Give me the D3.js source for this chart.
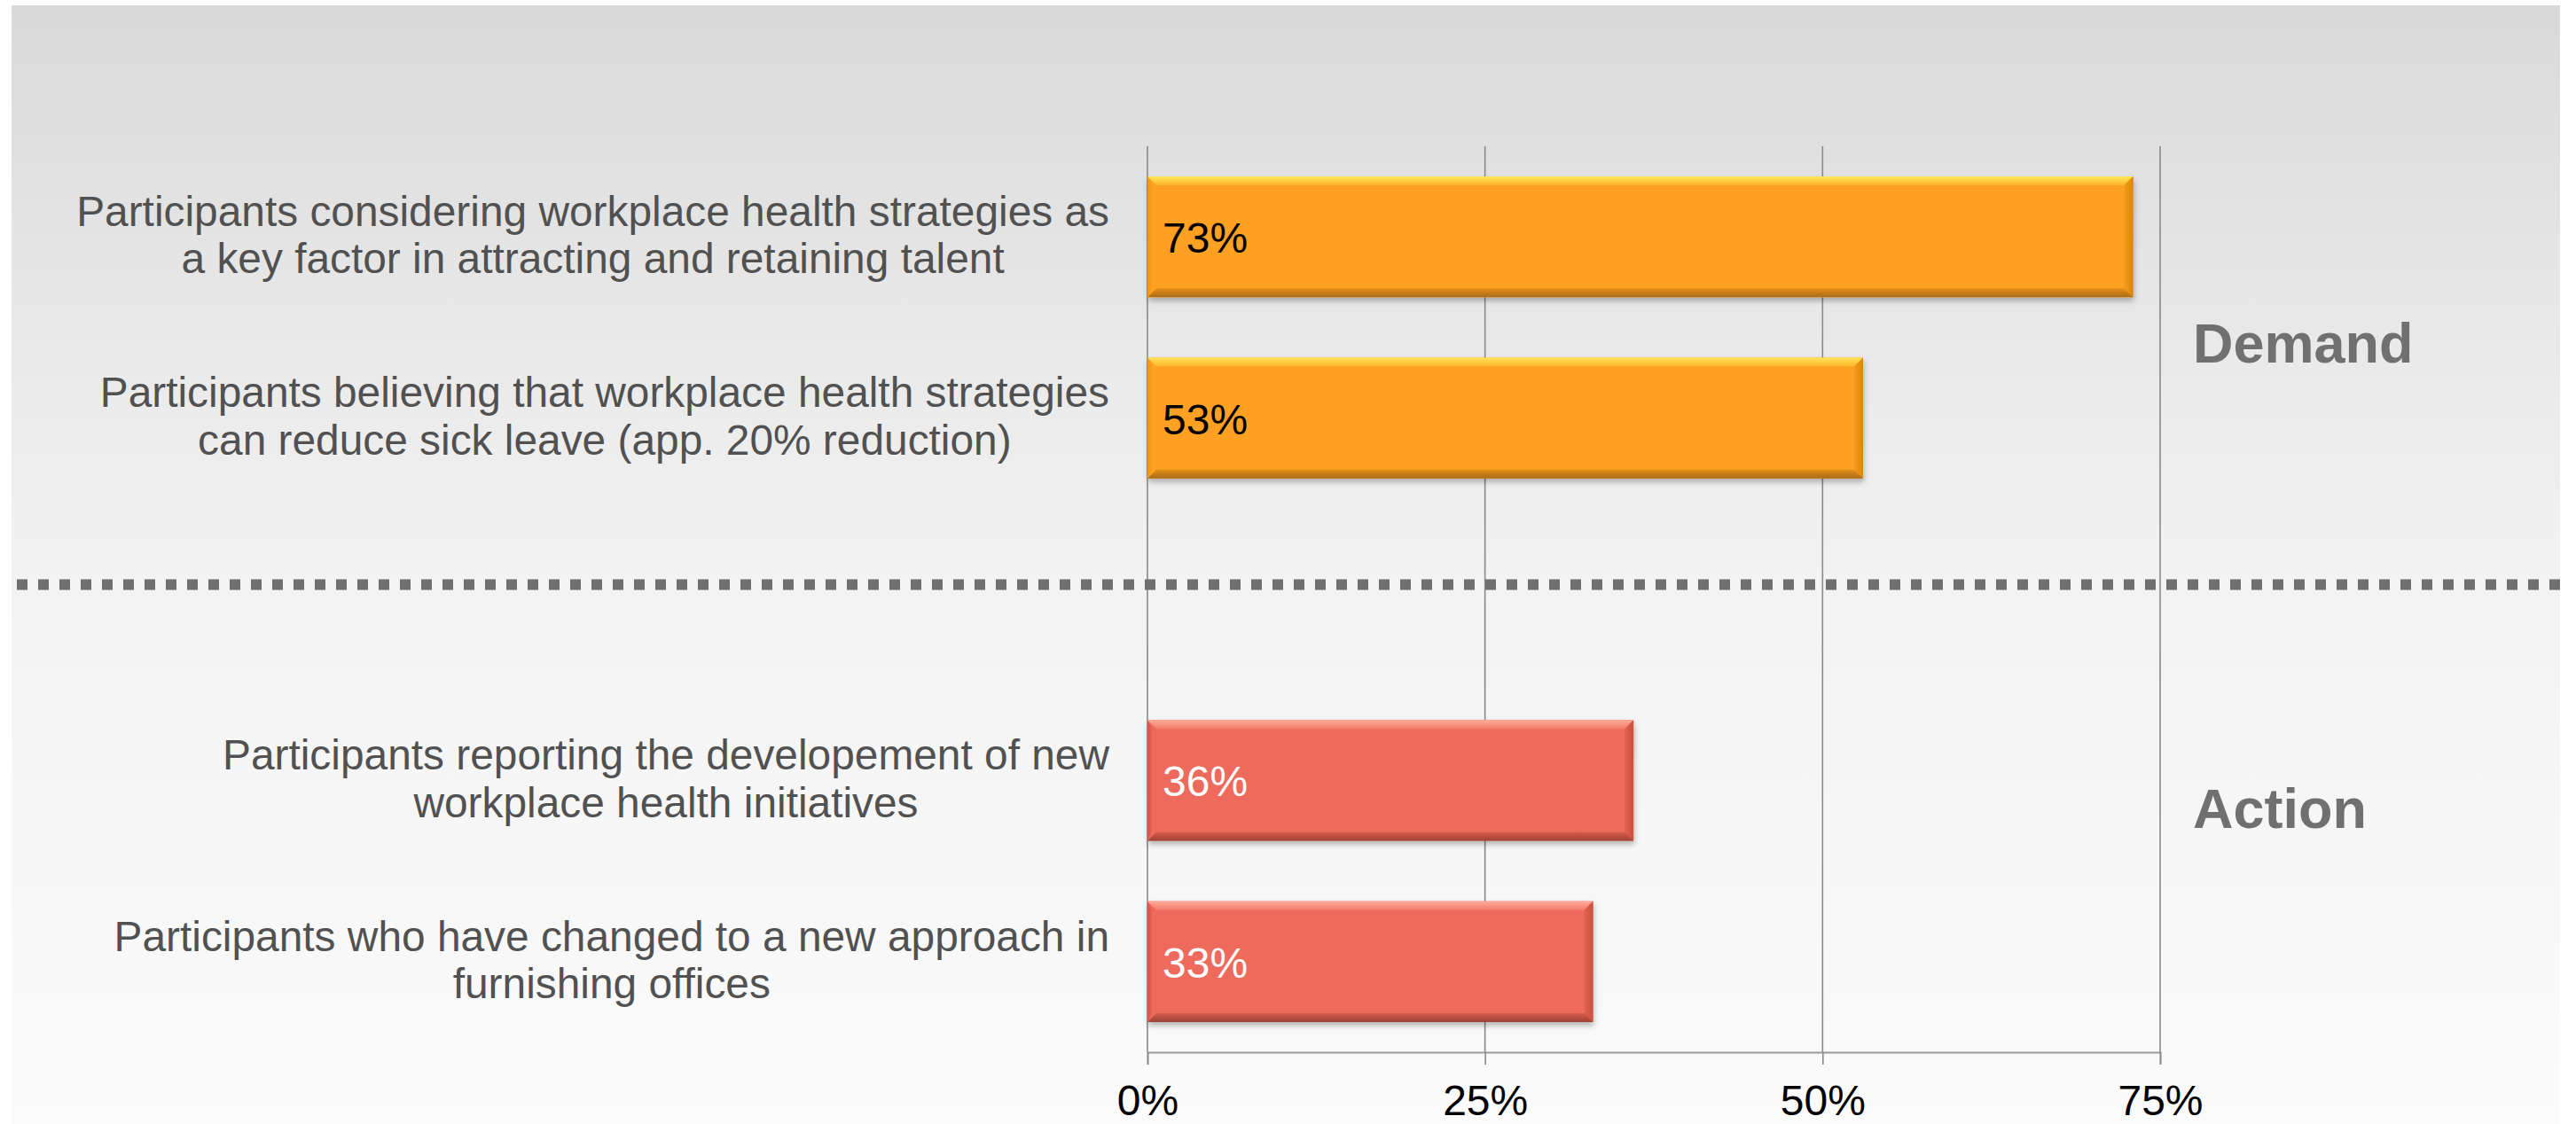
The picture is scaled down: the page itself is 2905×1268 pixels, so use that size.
<!DOCTYPE html>
<html>
<head>
<meta charset="utf-8">
<script src="https://cdn.jsdelivr.net/npm/d3@7"></script>
<style>
  html, body { margin: 0; padding: 0; background: #ffffff; }
  svg { display: block; }
  text { font-family: "Liberation Sans", Arial, Helvetica, sans-serif; }
</style>
</head>
<body>
<svg id="chart" width="2905" height="1268"></svg>
<script>
// Survey results: share of participants per statement
const labelLines = [
  ["Participants considering workplace health strategies as", "a key factor in attracting and retaining talent"],
  ["Participants believing that workplace health strategies", "can reduce sick leave (app. 20% reduction)"],
  ["Participants reporting the developement of new", "workplace health initiatives"],
  ["Participants who have changed to a new approach in", "furnishing offices"]
];
const values = [0.73, 0.53, 0.36, 0.33];
const groups = ["Demand", "Demand", "Action", "Action"];
// row slot for each statement; slot 2 stays empty as the divider between groups
const slots = [0, 1, 3, 4];
const slotCount = 5;
const tickValues = [0, 0.25, 0.5, 0.75];
const groupTitles = ["Demand", "Action"];

const W = 2905, H = 1268;
const svg = d3.select("#chart");
const defs = svg.append("defs");

// panel background gradient
const bg = defs.append("linearGradient").attr("id", "bgGrad")
  .attr("x1", 0).attr("y1", 0).attr("x2", 0).attr("y2", 1);
[[0, "#d9d9d9"], [0.28, "#e8e8e8"], [0.52, "#f3f3f3"], [1, "#fbfbfb"]]
  .forEach(([o, c]) => bg.append("stop").attr("offset", o).attr("stop-color", c));

svg.append("rect").attr("x", 13).attr("y", 6).attr("width", 2874).attr("height", H - 6)
  .attr("fill", "url(#bgGrad)");

// bar shadow
const sh = defs.append("filter").attr("id", "barShadow")
  .attr("x", "-5%").attr("y", "-20%").attr("width", "110%").attr("height", "150%");
sh.append("feDropShadow").attr("dx", 1).attr("dy", 4).attr("stdDeviation", 3)
  .attr("flood-color", "#000").attr("flood-opacity", 0.28);

// bevel palettes
const palettes = {
  Demand: { base: "#fea020", top: ["#ffe65c", "#ffb326"], right: ["#f59b1d", "#d98512"],
            bottom: ["#e58f1a", "#a86c16"], left: ["#f79c1e", "#ee9418"], text: "#000000" },
  Action: { base: "#ee6b5b", top: ["#ffab9c", "#f27b6a"], right: ["#e2624f", "#c9503f"],
            bottom: ["#d65c4c", "#9c4236"], left: ["#e5604f", "#d55646"], text: "#ffffff" }
};
function grad(id, c, x1, y1, x2, y2) {
  const g = defs.append("linearGradient").attr("id", id)
    .attr("x1", x1).attr("y1", y1).attr("x2", x2).attr("y2", y2);
  g.append("stop").attr("offset", 0).attr("stop-color", c[0]);
  g.append("stop").attr("offset", 1).attr("stop-color", c[1]);
}
Object.entries(palettes).forEach(([k, p]) => {
  grad("top" + k, p.top, 0, 0, 0, 1);
  grad("right" + k, p.right, 0, 0, 1, 0);
  grad("bottom" + k, p.bottom, 0, 0, 0, 1);
  grad("left" + k, p.left, 1, 0, 0, 0);
});

// scales
const x = d3.scaleLinear().domain([0, 0.75]).range([1294, 2436]);
const y = d3.scaleBand().domain(d3.range(slotCount)).range([165, 1187])
  .paddingInner(0.333).paddingOuter(0.1665);
const yTop = 165, yAxis = 1187;

// vertical gridlines
svg.append("g").selectAll("line").data(tickValues).join("line")
  .attr("x1", d => x(d)).attr("x2", d => x(d))
  .attr("y1", yTop).attr("y2", yAxis)
  .attr("stroke", "#8a8a8a").attr("stroke-width", 1.6);

// bottom axis
const axis = d3.axisBottom(x).tickValues(tickValues)
  .tickFormat(d3.format(".0%")).tickSize(14).tickPadding(23);
const ax = svg.append("g").attr("transform", `translate(0,${yAxis})`).call(axis);
ax.select(".domain").attr("stroke", "#9a9a9a").attr("stroke-width", 1.8);
ax.selectAll(".tick line").attr("stroke", "#8a8a8a").attr("stroke-width", 1.6);
ax.selectAll(".tick text").attr("font-size", 48).attr("fill", "#000")
  .attr("font-family", "Liberation Sans, Arial, sans-serif");

// dotted divider
svg.append("line").attr("x1", 19).attr("x2", 2887).attr("y1", 659.5).attr("y2", 659.5)
  .attr("stroke", "#6f6f6f").attr("stroke-width", 12).attr("stroke-dasharray", "12 12");

// bars with bevel
const b = 10;
const rows = values.map((v, i) => ({ v, g: groups[i], slot: slots[i], lines: labelLines[i] }));
const bars = svg.append("g").selectAll("g").data(rows).join("g");
bars.each(function (d) {
  const g = d3.select(this);
  const x0 = x(0), x1 = x(d.v), y0 = y(d.slot), y1 = y(d.slot) + y.bandwidth();
  const p = palettes[d.g];
  g.append("rect").attr("x", x0).attr("y", y0).attr("width", x1 - x0).attr("height", y1 - y0)
    .attr("fill", p.base).attr("filter", "url(#barShadow)");
  const poly = (pts, fill) => g.append("polygon")
    .attr("points", pts.map(q => q.join(",")).join(" ")).attr("fill", fill);
  poly([[x0, y0], [x1, y0], [x1 - b, y0 + b], [x0 + b, y0 + b]], `url(#top${d.g})`);
  poly([[x1, y0], [x1, y1], [x1 - b, y1 - b], [x1 - b, y0 + b]], `url(#right${d.g})`);
  poly([[x0, y1], [x1, y1], [x1 - b, y1 - b], [x0 + b, y1 - b]], `url(#bottom${d.g})`);
  poly([[x0, y0], [x0 + b * 0.5, y0 + b], [x0 + b * 0.5, y1 - b], [x0, y1]], `url(#left${d.g})`);
  g.append("text").attr("x", x0 + 17).attr("y", (y0 + y1) / 2 + 18)
    .attr("font-size", 48).attr("fill", p.text).text(d3.format(".0%")(d.v));
});

// category labels: block right-aligned, lines centred within the block
const rightEdge = 1251, lineH = 53.5;
rows.forEach(d => {
  const cy = y(d.slot) + y.bandwidth() / 2;
  const n = d.lines.length;
  const t = svg.append("g");
  const texts = d.lines.map((ln, i) => t.append("text")
    .attr("y", cy + (i - (n - 1) / 2) * lineH + 14.5)
    .attr("font-size", 47.85).attr("fill", "#515151").attr("text-anchor", "middle").text(ln));
  const maxW = d3.max(texts, s => s.node().getComputedTextLength());
  texts.forEach(s => s.attr("x", rightEdge - maxW / 2));
});

// group titles
const titleY = { Demand: 409, Action: 934 };
svg.append("g").selectAll("text").data(groupTitles).join("text")
  .attr("x", 2473).attr("y", d => titleY[d])
  .attr("font-size", 63).attr("font-weight", "bold").attr("fill", "#707070").text(d => d);
</script>
</body>
</html>
